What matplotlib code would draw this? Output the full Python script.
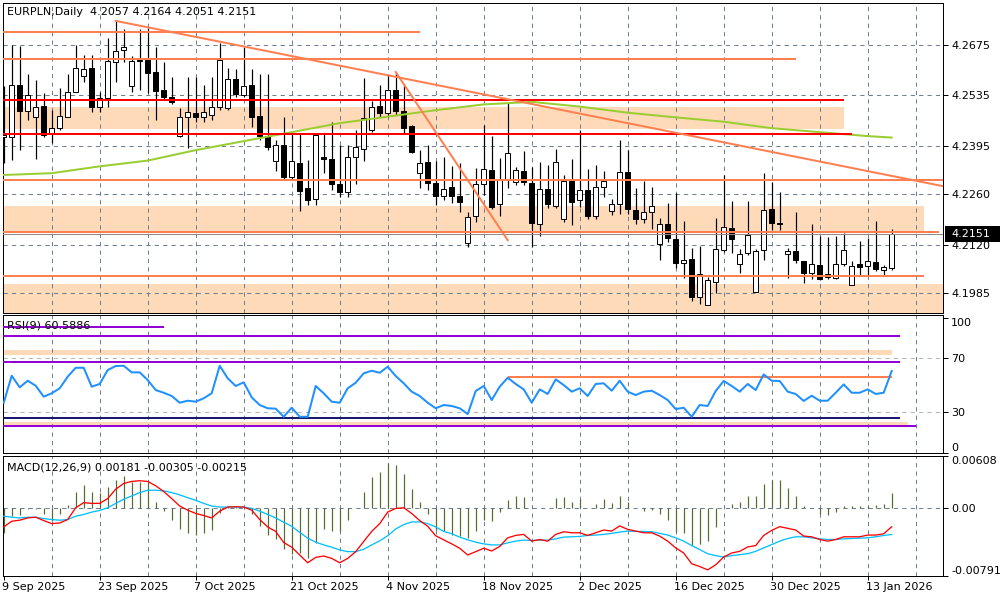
import numpy as np
import matplotlib
matplotlib.use("Agg")
import matplotlib.pyplot as plt
import matplotlib.transforms as mtransforms
from matplotlib.patches import Rectangle

plt.rcParams['font.family'] = ['DejaVu Sans']

# ---------------- Chart data (EURPLN Daily, MT4 style) ----------------
symbol_title = "EURPLN,Daily  4.2057 4.2164 4.2051 4.2151"
rsi_title = "RSI(9) 60.5886"
macd_title = "MACD(12,26,9) 0.00181 -0.00305 -0.00215"

date_labels = ["9 Sep 2025", "23 Sep 2025", "7 Oct 2025", "21 Oct 2025", "4 Nov 2025",
               "18 Nov 2025", "2 Dec 2025", "16 Dec 2025", "30 Dec 2025", "13 Jan 2026"]
date_label_bars = [0, 12, 24, 36, 48, 60, 72, 84, 96, 108]

opens = [4.2419, 4.2419, 4.2564, 4.2492, 4.2475, 4.2506, 4.2431, 4.2444, 4.2475, 4.2544,
         4.2589, 4.2611, 4.2503, 4.2528, 4.2628, 4.2661, 4.2561, 4.2631, 4.2633, 4.2600,
         4.2550, 4.2531, 4.2422, 4.2475, 4.2486, 4.2475, 4.2481, 4.2503, 4.2500, 4.2581,
         4.2536, 4.2564, 4.2478, 4.2422, 4.2353, 4.2397, 4.2308, 4.2347, 4.2278, 4.2247,
         4.2364, 4.2358, 4.2289, 4.2267, 4.2364, 4.2386, 4.2439, 4.2506, 4.2486, 4.2550,
         4.2492, 4.2450, 4.2319, 4.2350, 4.2292, 4.2256, 4.2281, 4.2256, 4.2125, 4.2200,
         4.2289, 4.2328, 4.2233, 4.2300, 4.2294, 4.2325, 4.2292, 4.2178, 4.2275, 4.2228,
         4.2192, 4.2297, 4.2244, 4.2272, 4.2200, 4.2281, 4.2214, 4.2233, 4.2322, 4.2217,
         4.2192, 4.2211, 4.2122, 4.2178, 4.2136, 4.2069, 4.2081, 4.1975, 4.1953, 4.2017,
         4.2106, 4.2167, 4.2067, 4.2097, 4.1989, 4.2106, 4.2219, 4.2181, 4.2094, 4.2103,
         4.2075, 4.2042, 4.2064, 4.2039, 4.2028, 4.2067, 4.2008, 4.2067, 4.2061, 4.2072,
         4.2050, 4.2057]
highs = [4.2561, 4.2675, 4.2672, 4.2594, 4.2578, 4.2542, 4.2494, 4.2556, 4.2594, 4.2675,
         4.2647, 4.2647, 4.2544, 4.2694, 4.2742, 4.2719, 4.2644, 4.2719, 4.2722, 4.2669,
         4.2628, 4.2586, 4.2500, 4.2586, 4.2586, 4.2564, 4.2586, 4.2681, 4.2611, 4.2608,
         4.2669, 4.2608, 4.2594, 4.2594, 4.2411, 4.2475, 4.2433, 4.2431, 4.2356, 4.2431,
         4.2431, 4.2461, 4.2397, 4.2397, 4.2439, 4.2583, 4.2519, 4.2564, 4.2592, 4.2597,
         4.2564, 4.2453, 4.2383, 4.2397, 4.2353, 4.2364, 4.2339, 4.2347, 4.2211, 4.2333,
         4.2453, 4.2422, 4.2361, 4.2514, 4.2336, 4.2381, 4.2336, 4.2350, 4.2342, 4.2386,
         4.2314, 4.2358, 4.2439, 4.2331, 4.2342, 4.2325, 4.2247, 4.2411, 4.2383, 4.2278,
         4.2297, 4.2281, 4.2194, 4.2236, 4.2264, 4.2186, 4.2111, 4.2117, 4.2031, 4.2194,
         4.2314, 4.2242, 4.2108, 4.2242, 4.2108, 4.2319, 4.2294, 4.2267, 4.2111, 4.2211,
         4.2075, 4.2178, 4.2144, 4.2142, 4.2144, 4.2153, 4.2075, 4.2131, 4.2139, 4.2186,
         4.2064, 4.2164]
lows = [4.2347, 4.2356, 4.2383, 4.2467, 4.2358, 4.2419, 4.2403, 4.2439, 4.2475, 4.2544,
        4.2572, 4.2489, 4.2489, 4.2503, 4.2572, 4.2628, 4.2544, 4.2550, 4.2542, 4.2467,
        4.2522, 4.2511, 4.2419, 4.2389, 4.2461, 4.2461, 4.2467, 4.2494, 4.2494, 4.2531,
        4.2531, 4.2447, 4.2411, 4.2383, 4.2325, 4.2303, 4.2303, 4.2214, 4.2231, 4.2231,
        4.2319, 4.2272, 4.2253, 4.2253, 4.2289, 4.2353, 4.2433, 4.2475, 4.2475, 4.2481,
        4.2431, 4.2375, 4.2278, 4.2272, 4.2231, 4.2244, 4.2236, 4.2211, 4.2114, 4.2183,
        4.2258, 4.2219, 4.2200, 4.2278, 4.2286, 4.2286, 4.2114, 4.2144, 4.2222, 4.2222,
        4.2183, 4.2175, 4.2225, 4.2192, 4.2192, 4.2253, 4.2203, 4.2206, 4.2206, 4.2178,
        4.2181, 4.2164, 4.2078, 4.2128, 4.2056, 4.2028, 4.1964, 4.1956, 4.1953, 4.1986,
        4.2100, 4.2097, 4.2042, 4.2092, 4.1989, 4.2078, 4.2161, 4.2161, 4.2028, 4.2069,
        4.2014, 4.2025, 4.2022, 4.2025, 4.2025, 4.2061, 4.2008, 4.2036, 4.2036, 4.2047,
        4.2036, 4.2051]
closes = [4.2425, 4.2564, 4.2492, 4.2536, 4.2503, 4.2425, 4.2444, 4.2478, 4.2544, 4.2611,
          4.2608, 4.2503, 4.2528, 4.2631, 4.2658, 4.2669, 4.2631, 4.2633, 4.2597, 4.2547,
          4.2531, 4.2517, 4.2475, 4.2489, 4.2475, 4.2489, 4.2503, 4.2633, 4.2581, 4.2539,
          4.2561, 4.2475, 4.2422, 4.2392, 4.2397, 4.2308, 4.2353, 4.2269, 4.2244, 4.2425,
          4.2358, 4.2289, 4.2267, 4.2364, 4.2392, 4.2472, 4.2503, 4.2486, 4.2550, 4.2492,
          4.2444, 4.2378, 4.2347, 4.2292, 4.2256, 4.2275, 4.2256, 4.2239, 4.2197, 4.2289,
          4.2331, 4.2225, 4.2300, 4.2375, 4.2328, 4.2294, 4.2181, 4.2275, 4.2233, 4.2350,
          4.2297, 4.2239, 4.2272, 4.2200, 4.2281, 4.2297, 4.2233, 4.2322, 4.2219, 4.2192,
          4.2211, 4.2228, 4.2178, 4.2139, 4.2069, 4.2078, 4.1975, 4.2039, 4.2022, 4.2108,
          4.2169, 4.2136, 4.2094, 4.2147, 4.2103, 4.2217, 4.2181, 4.2178, 4.2103, 4.2078,
          4.2042, 4.2067, 4.2025, 4.2031, 4.2067, 4.2106, 4.2061, 4.2058, 4.2075, 4.2053,
          4.2058, 4.2151]

# moving average read every 6 bars
ma_bars = [0, 6, 12, 18, 24, 30, 36, 42, 48, 54, 60, 66, 72, 78, 84, 90, 96, 102, 108, 111]
ma_values = [4.2314, 4.2319, 4.2338, 4.2354, 4.2383, 4.2408, 4.2433, 4.2458, 4.2476, 4.2494,
             4.2510, 4.2517, 4.2504, 4.2487, 4.2474, 4.2462, 4.2444, 4.2433, 4.2422, 4.2418]

rsi = [37.1, 57.1, 48.5, 53.4, 49.7, 41.6, 44.1, 47.8, 56.4, 63.0,
       63.0, 49.0, 51.0, 61.3, 64.3, 64.5, 59.6, 59.6, 53.9, 46.5,
       44.5, 42.1, 37.1, 38.6, 37.9, 40.4, 44.1, 64.5, 55.2, 49.5,
       52.2, 41.1, 35.4, 33.0, 32.7, 26.7, 33.4, 26.7, 26.7, 49.5,
       44.1, 37.9, 37.1, 47.8, 51.9, 58.9, 60.8, 59.3, 63.8, 56.9,
       51.5, 45.3, 42.1, 37.1, 33.0, 35.4, 34.7, 33.0, 28.7, 45.8,
       49.5, 39.1, 49.0, 55.6, 51.0, 47.0, 37.1, 47.0, 43.6, 54.4,
       50.2, 45.3, 47.8, 42.1, 51.0, 51.5, 46.0, 53.4, 45.3, 42.8,
       45.3, 46.0, 42.8, 39.1, 32.4, 33.4, 26.7, 35.4, 34.7, 45.8,
       53.2, 49.5, 45.3, 51.0, 46.5, 58.1, 53.4, 53.2, 45.3, 43.6,
       38.4, 42.3, 38.6, 38.6, 44.5, 50.7, 44.5, 44.5, 47.0, 43.6,
       44.5, 60.59]

macd_hist = [-0.00288, -0.00091, -0.00079, -0.00004, -0.00005, -0.00071, -0.00150, -0.00071, 0.00036, 0.00194,
             0.00273, 0.00194, 0.00186, 0.00253, 0.00332, 0.00383, 0.00304, 0.00304, 0.00304, 0.00075,
             -0.00032, -0.00130, -0.00237, -0.00288, -0.00308, -0.00288, -0.00249, -0.00051, 0.00016, 0.00016,
             -0.00012, -0.00071, -0.00201, -0.00308, -0.00359, -0.00478, -0.00533, -0.00525, -0.00577, -0.00407,
             -0.00237, -0.00261, -0.00269, -0.00130, 0.00002, 0.00194, 0.00363, 0.00431, 0.00533, 0.00510,
             0.00403, 0.00233, 0.00079, -0.00071, -0.00249, -0.00269, -0.00308, -0.00328, -0.00348, -0.00261,
             -0.00130, -0.00150, -0.00043, 0.00099, 0.00150, 0.00138, 0.00003, 0.00002, 0.00003, 0.00122,
             0.00138, 0.00079, 0.00111, 0.00002, 0.00051, 0.00111, 0.00063, 0.00150, 0.00071, 0.00002,
             -0.00028, -0.00016, -0.00067, -0.00138, -0.00277, -0.00292, -0.00423, -0.00411, -0.00383, -0.00213,
             0.00002, 0.00051, 0.00071, 0.00150, 0.00150, 0.00288, 0.00328, 0.00336, 0.00241, 0.00150,
             0.00032, 0.00002, -0.00067, -0.00075, -0.00040, 0.00032, 0.00024, 0.00032, 0.00024, 0.00040,
             0.00051, 0.00181]
macd_main = [-0.00217, -0.00150, -0.00138, -0.00111, -0.00103, -0.00142, -0.00178, -0.00170, -0.00130, 0.00008,
             0.00067, 0.00059, 0.00059, 0.00115, 0.00225, 0.00292, 0.00316, 0.00324, 0.00316, 0.00265,
             0.00198, 0.00115, 0.00028, -0.00020, -0.00059, -0.00083, -0.00111, -0.00032, 0.00016, 0.00020,
             0.00016, -0.00020, -0.00130, -0.00217, -0.00269, -0.00399, -0.00454, -0.00545, -0.00636, -0.00573,
             -0.00557, -0.00585, -0.00636, -0.00585, -0.00506, -0.00387, -0.00269, -0.00178, -0.00043, 0.00000,
             0.00008, -0.00059, -0.00142, -0.00209, -0.00320, -0.00368, -0.00415, -0.00466, -0.00545, -0.00506,
             -0.00466, -0.00498, -0.00445, -0.00344, -0.00316, -0.00304, -0.00383, -0.00364, -0.00383, -0.00304,
             -0.00273, -0.00285, -0.00285, -0.00316, -0.00285, -0.00253, -0.00265, -0.00205, -0.00245, -0.00265,
             -0.00285, -0.00285, -0.00324, -0.00383, -0.00462, -0.00522, -0.00648, -0.00680, -0.00719, -0.00660,
             -0.00569, -0.00522, -0.00502, -0.00451, -0.00435, -0.00316, -0.00257, -0.00213, -0.00233, -0.00253,
             -0.00324, -0.00332, -0.00364, -0.00383, -0.00364, -0.00332, -0.00332, -0.00332, -0.00312, -0.00312,
             -0.00296, -0.00215]
macd_signal = [-0.00091, -0.00103, -0.00111, -0.00103, -0.00103, -0.00119, -0.00130, -0.00138, -0.00130, -0.00091,
               -0.00071, -0.00043, -0.00024, 0.00008, 0.00059, 0.00107, 0.00146, 0.00186, 0.00213, 0.00213,
               0.00206, 0.00186, 0.00158, 0.00126, 0.00095, 0.00059, 0.00028, 0.00016, 0.00016, 0.00016,
               0.00016, 0.00000, -0.00032, -0.00071, -0.00111, -0.00162, -0.00209, -0.00281, -0.00348, -0.00395,
               -0.00427, -0.00454, -0.00486, -0.00506, -0.00506, -0.00478, -0.00427, -0.00379, -0.00320, -0.00241,
               -0.00190, -0.00158, -0.00158, -0.00178, -0.00217, -0.00269, -0.00296, -0.00336, -0.00368, -0.00395,
               -0.00415, -0.00427, -0.00427, -0.00403, -0.00383, -0.00371, -0.00375, -0.00371, -0.00371, -0.00356,
               -0.00336, -0.00332, -0.00328, -0.00316, -0.00312, -0.00304, -0.00292, -0.00277, -0.00265, -0.00269,
               -0.00269, -0.00273, -0.00292, -0.00312, -0.00344, -0.00383, -0.00435, -0.00482, -0.00530, -0.00553,
               -0.00569, -0.00553, -0.00541, -0.00530, -0.00502, -0.00462, -0.00423, -0.00383, -0.00352, -0.00332,
               -0.00332, -0.00344, -0.00356, -0.00364, -0.00364, -0.00356, -0.00352, -0.00348, -0.00344, -0.00332,
               -0.00316, -0.00305]

price_ticks = [4.2675, 4.2535, 4.2395, 4.2260, 4.2120, 4.1985]
last_price = 4.2151

# drawn objects on the price panel
coral_levels = [4.2711, 4.2636, 4.2300, 4.2156, 4.2033]
coral_level_ends = [52, 99, 118, 116.9, 115]
red_levels = [4.2523, 4.2429]
red_level_ends = [105, 106]
zone_lows = [4.2442, 4.2156, 4.1900]
zone_highs = [4.2503, 4.2228, 4.2011]
zone_ends = [105, 115, 118]
trend_long_bars = [14, 112]
trend_long_prices = [4.2742, 4.2307]
trend_steep_bars = [49, 63]
trend_steep_prices = [4.2600, 4.2133]

# drawn objects on the RSI panel
rsi_ticks = [100, 70, 30, 0]
rsi_purple_levels = [93.4, 86.7, 67.5, 19.9]
rsi_purple_ends = [20, 112, 112, 114]
rsi_navy_level = 26.0
rsi_navy_end = 112
rsi_coral_level = 56.4
rsi_coral_span = [63, 111]
rsi_zone_lows = [72.4, 20.6]
rsi_zone_highs = [76.1, 22.6]
rsi_zone_ends = [111, 113]

macd_ticks = [0.00608, 0.0, -0.00791]
macd_tick_labels = ["0.00608", "0.00", "-0.00791"]

# ---------------- Figure ----------------
PX = 0.72  # one screen pixel in points
x_min, x_max = -0.125, 117.45
bars = np.arange(len(closes))
grid_kw = dict(color='#6E7F90', lw=PX, ls=(0, (4.2, 4.2)), zorder=1)
coral = '#FF7F50'
peach = '#FFDAB9'

fig = plt.figure(figsize=(10, 6), dpi=100)
ax_p = fig.add_axes([0.0027, 0.4783, 0.9406, 0.5167])
ax_r = fig.add_axes([0.0027, 0.2442, 0.9406, 0.2308])
ax_m = fig.add_axes([0.0027, 0.0400, 0.9406, 0.1992])

for ax in (ax_p, ax_r, ax_m):
    ax.set_xlim(x_min, x_max)
    for b in range(6, 118, 6):
        ax.axvline(b, **grid_kw)
    for s in ax.spines.values():
        s.set_linewidth(PX)
        s.set_color('black')
    ax.yaxis.tick_right()
    ax.tick_params(axis='y', length=5 * PX, width=PX, pad=2, labelsize=8, direction='out')
    ax.tick_params(axis='x', length=0, labelbottom=False)

# ---------------- Price panel ----------------
ax_p.set_ylim(4.19306, 4.27917)
ax_p.set_yticks(price_ticks)
ax_p.set_yticklabels([f"{v:.4f}" for v in price_ticks])
for v in price_ticks:
    ax_p.axhline(v, **grid_kw)

for lo, hi, end in zip(zone_lows, zone_highs, zone_ends):
    ax_p.add_patch(Rectangle((x_min, lo), end - x_min, hi - lo, fc=peach, lw=0, zorder=0.5))

o = np.array(opens)
c = np.array(closes)
body_lo = np.minimum(o, c)
body_h = np.maximum(np.abs(c - o), 0.00004)
ax_p.vlines(bars, lows, highs, color='black', lw=PX * 1.2, zorder=3)
ax_p.bar(bars, body_h, bottom=body_lo, width=0.6,
         color=np.where(c >= o, 'white', 'black'), edgecolor='black', lw=PX, zorder=4)

ax_p.plot(ma_bars, ma_values, color='#9ACD32', lw=2 * PX, zorder=5)
ax_p.axhline(last_price, color='#8C8C8C', lw=PX, zorder=5)
ax_p.hlines(coral_levels, x_min, coral_level_ends, color=coral, lw=2 * PX, zorder=6)
ax_p.hlines(red_levels, x_min, red_level_ends, color='#FF0000', lw=2 * PX, zorder=6)

slope = (trend_long_prices[1] - trend_long_prices[0]) / (trend_long_bars[1] - trend_long_bars[0])
ax_p.plot([trend_long_bars[0], x_max],
          [trend_long_prices[0], trend_long_prices[0] + slope * (x_max - trend_long_bars[0])],
          color=coral, lw=2 * PX, zorder=6)
ax_p.plot(trend_steep_bars, trend_steep_prices, color=coral, lw=2 * PX, zorder=6)

trans_p = mtransforms.blended_transform_factory(ax_p.transAxes, ax_p.transData)
ax_p.add_patch(Rectangle((1.002, last_price - 0.0022), 0.062, 0.0044, transform=trans_p,
                         fc='black', ec='none', clip_on=False, zorder=10))
ax_p.text(1.0085, last_price, f"{last_price:.4f}", transform=trans_p, color='white',
          fontsize=8, va='center', ha='left', zorder=11, clip_on=False)

# ---------------- RSI panel ----------------
ax_r.set_ylim(-0.5, 102.1)
ax_r.set_yticks(rsi_ticks)
ax_r.set_yticklabels([str(v) for v in rsi_ticks])
rl = ax_r.get_yticklabels()
rl[0].set_va('top')
rl[-1].set_va('bottom')
for v in (70, 30):
    ax_r.axhline(v, color='#B4B4B4', lw=PX, ls=(0, (4.2, 4.2)), zorder=1)

for lo, hi, end in zip(rsi_zone_lows, rsi_zone_highs, rsi_zone_ends):
    ax_r.add_patch(Rectangle((x_min, lo), end - x_min, hi - lo, fc=peach, lw=0, zorder=0.5))
ax_r.hlines(rsi_purple_levels, x_min, rsi_purple_ends, color='#9400D3', lw=2 * PX, zorder=6)
ax_r.hlines(rsi_navy_level, x_min, rsi_navy_end, color='#191970', lw=2 * PX, zorder=6)
ax_r.hlines(rsi_coral_level, rsi_coral_span[0], rsi_coral_span[1], color=coral, lw=2 * PX, zorder=6)
ax_r.plot(bars, rsi, color='#1E90FF', lw=2 * PX, zorder=7)

# ---------------- MACD panel ----------------
ax_m.set_ylim(-0.00791, 0.00608)
ax_m.set_yticks(macd_ticks)
ax_m.set_yticklabels(macd_tick_labels)
ml = ax_m.get_yticklabels()
ml[0].set_va('top')
ml[-1].set_va('bottom')
ax_m.axhline(0, **grid_kw)
ax_m.vlines(bars, 0, macd_hist, color='#556B2F', lw=PX * 1.2, zorder=3)
ax_m.plot(bars, macd_signal, color='#00BFFF', lw=PX * 1.3, zorder=4)
ax_m.plot(bars, macd_main, color='#FF0000', lw=PX * 1.3, zorder=5)

ax_m.set_xticks(date_label_bars)
ax_m.tick_params(axis='x', length=4 * PX, width=PX, direction='out')
trans_d = mtransforms.blended_transform_factory(ax_m.transData, fig.transFigure)
for b, lbl in zip(date_label_bars, date_labels):
    ax_m.text(b - 0.15, 1 - 587 / 600, lbl, transform=trans_d, fontsize=8,
              ha='left', va='center', clip_on=False)

# ---------------- Titles ----------------
fig.text(0.007, 1 - 12 / 600, symbol_title, fontsize=8, ha='left', va='center', zorder=1)
fig.text(0.007, 1 - 326 / 600, rsi_title, fontsize=8, ha='left', va='center', zorder=0)
fig.text(0.007, 1 - 467 / 600, macd_title, fontsize=8, ha='left', va='center')

fig.savefig("out.png", dpi=100)
